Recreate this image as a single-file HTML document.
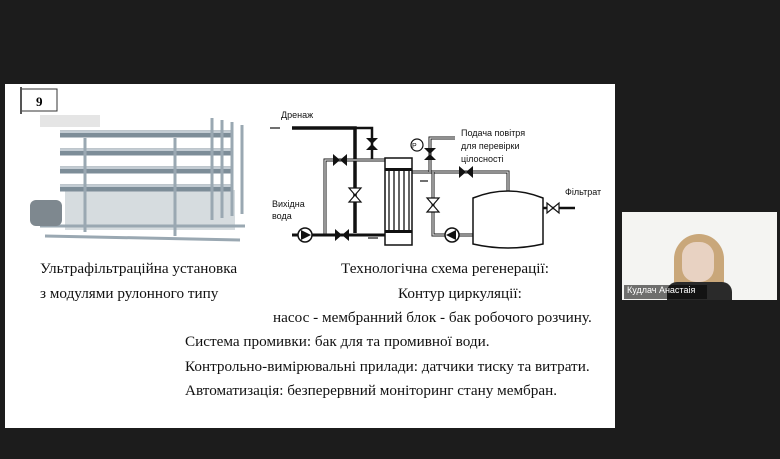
<!DOCTYPE html>
<html><head><meta charset="utf-8"><style>
body{margin:0;width:780px;height:459px;background:#1c1c1c;overflow:hidden;position:relative;font-family:"Liberation Serif",serif}
.slide{position:absolute;left:5px;top:84px;width:610px;height:344px;background:#fff}
.t{position:absolute;font-size:15.2px;color:#111;white-space:nowrap}
.cam{position:absolute;left:622px;top:212px;width:155px;height:88px;background:#f4f4f2}
</style></head><body>
<div class="slide"></div>
<svg style="position:absolute;left:0;top:0" width="780" height="459">
 <rect x="21" y="89" width="36" height="22" fill="#fff" stroke="#333"/>
 <line x1="21" y1="87" x2="21" y2="114" stroke="#555" stroke-width="2"/>
 <text x="36" y="106" font-family="Liberation Serif" font-weight="bold" font-size="13">9</text>
 <rect x="40" y="115" width="60" height="12" fill="#ccc" opacity=".5"/>
 <!-- equipment photo -->
 <rect x="65" y="190" width="170" height="40" fill="#c5cdd2" opacity=".7"/>
 <g stroke="#7d8d98" stroke-width="7">
  <line x1="60" y1="134" x2="232" y2="134"/><line x1="60" y1="152" x2="232" y2="152"/>
  <line x1="60" y1="170" x2="232" y2="170"/><line x1="60" y1="188" x2="232" y2="188"/>
 </g>
 <g stroke="#c3ccd3" stroke-width="2"><line x1="60" y1="132" x2="232" y2="132"/><line x1="60" y1="150" x2="232" y2="150"/><line x1="60" y1="168" x2="232" y2="168"/><line x1="60" y1="186" x2="232" y2="186"/></g>
 <g stroke="#9aa8b2" stroke-width="3">
  <line x1="85" y1="138" x2="85" y2="232"/><line x1="175" y1="138" x2="175" y2="236"/>
  <line x1="212" y1="118" x2="212" y2="220"/><line x1="222" y1="120" x2="222" y2="218"/><line x1="232" y1="122" x2="232" y2="216"/><line x1="242" y1="125" x2="242" y2="214"/>
  <line x1="40" y1="226" x2="245" y2="226"/><line x1="45" y1="236" x2="240" y2="240"/>
 </g>
 <rect x="30" y="200" width="32" height="26" rx="6" fill="#7e888f"/>
 <!-- schematic -->
 <g fill="none" stroke="#111">
  <path d="M292 128H355V233" stroke-width="3.5"/>
  <path d="M355 128H372V160" stroke-width="2.5"/>
  <path d="M325 235V160H385" stroke-width="3" />
  <path d="M325 235V160H385" stroke-width="1.3" stroke="#ddd"/>
  <path d="M292 235H385" stroke-width="3"/>
  <path d="M412 172H508V195" stroke-width="3"/>
  <path d="M412 172H508V195" stroke-width="1.3" stroke="#ddd"/>
  <path d="M433 172V235H473" stroke-width="3"/>
  <path d="M433 172V235H473" stroke-width="1.3" stroke="#ddd"/>
  <path d="M430 172V138H455" stroke-width="3"/>
  <path d="M430 172V138H455" stroke-width="1.3" stroke="#ddd"/>
  <path d="M543 208H575" stroke-width="2.5"/>
  <rect x="385" y="158" width="27" height="87" stroke-width="1.5" fill="#fff"/>
  <path d="M473 198Q508 184 543 198V244Q508 252 473 244Z" stroke-width="1.5" fill="#fff"/>
  <circle cx="305" cy="235" r="7" stroke-width="1.5" fill="#fff"/>
  <circle cx="452" cy="235" r="7" stroke-width="1.5" fill="#fff"/>
  <circle cx="417" cy="145" r="6" stroke-width="1.2" fill="#fff"/>
 </g>
 <g fill="#111">
  <rect x="385" y="168" width="27" height="3"/><rect x="385" y="230" width="27" height="3"/>
  <g stroke="#111" stroke-width="1.3"><line x1="389" y1="170" x2="389" y2="232"/><line x1="394" y1="170" x2="394" y2="232"/><line x1="399" y1="170" x2="399" y2="232"/><line x1="404" y1="170" x2="404" y2="232"/><line x1="409" y1="170" x2="409" y2="232"/></g>
  <path d="M333 154L347 166V154L333 166Z"/><path d="M335 229L349 241V229L335 241Z"/>
  <path d="M366 138L378 138L366 150L378 150Z"/><path d="M424 148L436 148L424 160L436 160Z"/>
  <path d="M459 166L473 178V166L459 178Z"/>
  <path d="M301 230L311 235L301 240Z"/><path d="M456 230L446 235L456 240Z"/>
 </g>
 <g fill="#fff" stroke="#111" stroke-width="1.2">
  <path d="M349 188L361 188L349 202L361 202Z"/><path d="M427 198L439 198L427 212L439 212Z"/>
  <path d="M547 203L559 213V203L547 213Z"/>
 </g>
 <g font-family="Liberation Sans" font-size="9" fill="#111">
  <text x="281" y="118">Дренаж</text>
  <text x="461" y="136">Подача повітря</text><text x="461" y="149">для перевірки</text><text x="461" y="162">цілосності</text>
  <text x="272" y="207">Вихідна</text><text x="272" y="219">вода</text>
  <text x="565" y="195">Фільтрат</text>
  <text x="412" y="148" font-size="7">P</text>
 </g>
 <g stroke="#111" stroke-width="1.2"><line x1="270" y1="128" x2="280" y2="128"/><line x1="368" y1="238" x2="378" y2="238"/><line x1="420" y1="181" x2="428" y2="181"/><line x1="563" y1="208" x2="573" y2="208"/></g>
</svg>
<div class="t" style="left:40px;top:260px">Ультрафільтраційна установка</div>
<div class="t" style="left:40px;top:285px">з модулями рулонного типу</div>
<div class="t" style="left:341px;top:260px">Технологічна схема регенерації:</div>
<div class="t" style="left:398px;top:285px">Контур циркуляції:</div>
<div class="t" style="left:273px;top:309px">насос - мембранний блок - бак робочого розчину.</div>
<div class="t" style="left:185px;top:333px">Система промивки: бак для та промивної води.</div>
<div class="t" style="left:185px;top:358px">Контрольно-вимірювальні прилади: датчики тиску та витрати.</div>
<div class="t" style="left:185px;top:382px">Автоматизація: безперервний моніторинг стану мембран.</div>
<div class="cam">
 <div style="position:absolute;left:52px;top:22px;width:50px;height:66px;background:#c9a77a;border-radius:25px 25px 0 0"></div>
 <div style="position:absolute;left:60px;top:30px;width:32px;height:40px;background:#e8d2c2;border-radius:14px"></div>
 <div style="position:absolute;left:45px;top:70px;width:65px;height:18px;background:#2a2a2a;border-radius:10px 10px 0 0"></div>
 <div style="position:absolute;left:2px;top:73px;width:80px;height:14px;background:rgba(0,0,0,.55);color:#fff;font:9px 'Liberation Sans',sans-serif;padding-left:3px">Кудлач Анастаія</div>
</div>
</body></html>
